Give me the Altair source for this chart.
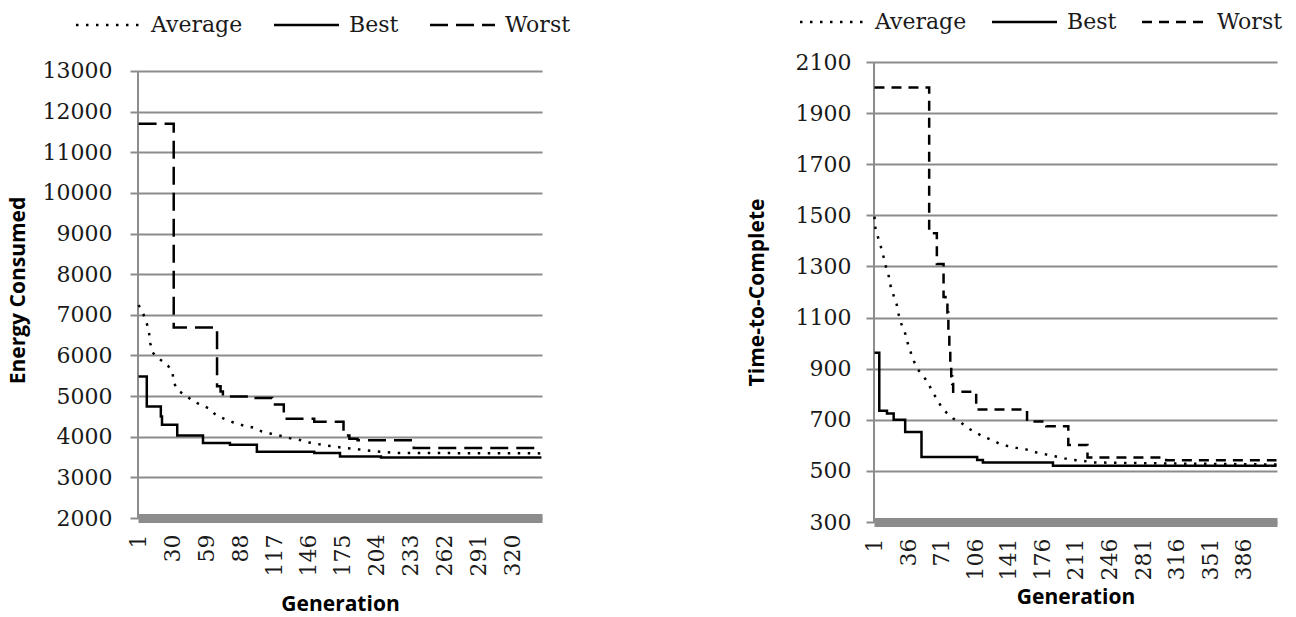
import altair as alt
import pandas as pd

SERIES = ["Average", "Best", "Worst"]

# ---------------- Energy Consumed run (345 generations) ----------------
E_N_GEN = 345
E_X_TICKS = [1, 30, 59, 88, 117, 146, 175, 204, 233, 262, 291, 320]
E_Y_TICKS = [2000, 3000, 4000, 5000, 6000, 7000, 8000, 9000, 10000, 11000, 12000, 13000]
E_Y_TOP = 13220  # a little headroom above the last gridline

E_AVG_GEN = [1, 5, 8, 10, 11, 13, 19, 26, 30, 31, 35, 42, 48, 55, 62, 67, 75, 82,
             90, 99, 106, 114, 122, 130, 138, 146, 154, 162, 178, 187, 195, 204,
             212, 221, 345]
E_AVG_VAL = [7240, 7020, 6790, 6540, 6300, 6070, 5910, 5750, 5580, 5330, 5130, 5000,
             4860, 4780, 4680, 4530, 4430, 4350, 4280, 4225, 4130, 4075, 4025, 3965,
             3925, 3860, 3820, 3780, 3720, 3695, 3665, 3640, 3620, 3600, 3590]

E_BEST_GEN = [1, 8, 20, 21, 34, 56, 79, 102, 151, 173, 208, 345]
E_BEST_VAL = [5480, 4745, 4500, 4295, 4030, 3845, 3805, 3630, 3600, 3515, 3490, 3490]

E_WORST_GEN = [1, 31, 68, 71, 73, 101, 115, 125, 151, 176, 181, 188, 236, 345]
E_WORST_VAL = [11700, 6690, 5240, 5110, 4990, 4950, 4790, 4440, 4370, 4030, 3950,
               3910, 3720, 3720]

# ---------------- Time-to-Complete run (420 generations) ----------------
T_N_GEN = 420
T_X_TICKS = [1, 36, 71, 106, 141, 176, 211, 246, 281, 316, 351, 386]
T_Y_TICKS = [300, 500, 700, 900, 1100, 1300, 1500, 1700, 1900, 2100]
T_Y_TOP = 2100

T_AVG_GEN = [1, 2, 5, 9, 13, 16, 18, 21, 24, 26, 29, 33, 36, 40, 45, 51, 57, 61, 65,
             70, 76, 83, 91, 99, 107, 115, 124, 132, 140, 149, 159, 170, 178, 189,
             199, 208, 218, 228, 304, 420]
T_AVG_VAL = [1495, 1450, 1410, 1360, 1298, 1260, 1220, 1186, 1154, 1115, 1075, 1038,
             995, 950, 902, 875, 845, 810, 788, 755, 728, 705, 689, 666, 649, 633, 620,
             605, 597, 590, 584, 572, 566, 557, 549, 543, 540, 533, 529, 525]

T_BEST_GEN = [1, 6, 14, 21, 33, 50, 108, 114, 187, 420]
T_BEST_VAL = [962, 735, 725, 700, 652, 554, 543, 533, 520, 520]

T_WORST_GEN = [1, 58, 66, 73, 75, 77, 78, 79, 80, 81, 82, 83, 107, 160, 180, 203,
               223, 305, 420]
T_WORST_VAL = [2000, 1430, 1310, 1180, 1150, 1120, 1050, 980, 920, 870, 840, 810,
               740, 693, 675, 601, 552, 542, 542]

GRID = "#8c8c8c"
TEXT = "#1a1a1a"
SERIF = "DejaVu Serif"
SANS = "Open Sans"

# legend line sample: a horizontal stroke about 65 px long, starting at the
# symbol slot's left edge (slot is 10 px wide with symbolSize=100)
LEGEND_STROKE = "M-1,0H12"


def panel(avg_g, avg_v, best_g, best_v, worst_g, worst_v, n_gen, x_ticks,
          y_ticks, y_top, y_title, worst_dash, width, height, legend_x,
          legend_y, y_label_pad, y_title_pad, x_title_pad, label_off, col_pad):
    avg = pd.DataFrame({"Generation": avg_g, "Value": avg_v, "Series": "Average"})
    steps = pd.concat([
        pd.DataFrame({"Generation": best_g, "Value": best_v, "Series": "Best"}),
        pd.DataFrame({"Generation": worst_g, "Value": worst_v, "Series": "Worst"}),
    ])
    # vertical axis line, from the lowest to the highest gridline
    axis_line = pd.DataFrame({"Generation": [0.5], "Value": [y_ticks[0]],
                              "Value2": [y_ticks[-1]]})

    x = alt.X(
        "Generation:Q",
        scale=alt.Scale(domain=[0.5, n_gen + 0.5], nice=False, zero=False),
        axis=alt.Axis(
            title="Generation", values=x_ticks, labelAngle=270, grid=False,
            ticks=False, domainColor=GRID, domainWidth=9, labelFont=SERIF,
            labelFontSize=22, labelColor=TEXT, labelPadding=16,
            labelOverlap=False, titleFont=SANS, titleFontSize=21,
            titleFontWeight="bold", titleColor="black", titlePadding=x_title_pad,
        ),
    )
    y = alt.Y(
        "Value:Q",
        scale=alt.Scale(domain=[y_ticks[0], y_top], nice=False, zero=False),
        axis=alt.Axis(
            title=y_title, values=y_ticks, format="d", grid=True, gridColor=GRID,
            gridWidth=2, domain=False, tickColor=GRID, tickWidth=2, tickSize=8,
            labelFont=SERIF, labelFontSize=22, labelColor=TEXT,
            labelPadding=y_label_pad, labelOverlap=False, titleFont=SANS,
            titleFontSize=21, titleFontWeight="bold", titleColor="black",
            titlePadding=y_title_pad,
        ),
    )
    dash = alt.StrokeDash(
        "Series:N",
        scale=alt.Scale(domain=SERIES, range=[[2.5, 7.5], [1, 0], worst_dash]),
        legend=alt.Legend(
            title=None, orient="none", legendX=legend_x, legendY=legend_y,
            direction="horizontal", symbolType=LEGEND_STROKE, symbolSize=100,
            symbolStrokeWidth=2.5, symbolStrokeColor="black", labelFont=SERIF,
            labelFontSize=22, labelColor=TEXT, labelOffset=label_off,
            columnPadding=col_pad,
        ),
    )
    y_line = alt.Chart(axis_line).mark_rule(color=GRID, strokeWidth=2).encode(
        x=x, y=y, y2="Value2"
    )
    avg_line = alt.Chart(avg).mark_line(color="black", strokeWidth=2.5).encode(
        x=x, y=y, strokeDash=dash
    )
    step_lines = alt.Chart(steps).mark_line(
        color="black", strokeWidth=2.5, interpolate="step-after"
    ).encode(x=x, y=y, strokeDash=dash)
    return alt.layer(y_line, avg_line, step_lines).properties(width=width, height=height)


energy = panel(E_AVG_GEN, E_AVG_VAL, E_BEST_GEN, E_BEST_VAL, E_WORST_GEN,
               E_WORST_VAL, E_N_GEN, E_X_TICKS, E_Y_TICKS, E_Y_TOP,
               "Energy Consumed", [18, 8], 404, 456, -68, -48, 18, 14, 18, 59, 25)
timing = panel(T_AVG_GEN, T_AVG_VAL, T_BEST_GEN, T_BEST_VAL, T_WORST_GEN,
               T_WORST_VAL, T_N_GEN, T_X_TICKS, T_Y_TICKS, T_Y_TOP,
               "Time-to-Complete", [10, 7], 403, 460, -80, -51, 15, 28, 7, 59, 19)

chart = (
    alt.hconcat(energy, timing, spacing=175)
    .resolve_scale(x="independent", y="independent", strokeDash="independent")
    .resolve_legend(strokeDash="independent")
    .properties(padding={"left": 7, "top": 11, "right": 0, "bottom": 2},
                background="white")
    .configure_view(stroke=None)
)

chart.save("out.html", embed_options={"renderer": "svg", "actions": False})
